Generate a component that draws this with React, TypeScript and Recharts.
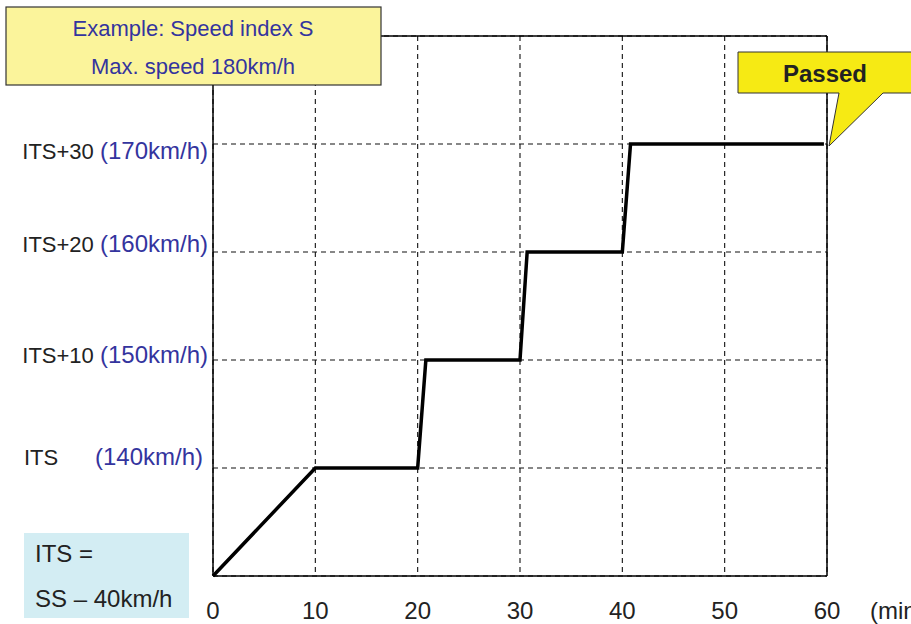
import React from "react"
import { LineChart, Line, XAxis, YAxis, CartesianGrid, ReferenceLine } from "recharts"

// test run: minutes vs. speed (km/h)
const minutes = [0, 10, 20, 20.8, 30, 30.7, 40, 40.8, 59.7]
const speeds = [130, 140, 140, 150, 150, 160, 160, 170, 170]

const xTicks = [0, 10, 20, 30, 40, 50, 60]
const yTicks = [140, 150, 160, 170]
const yStepNames = ["ITS", "ITS+10", "ITS+20", "ITS+30"]
const ySpeedLabels = ["(140km/h)", "(150km/h)", "(160km/h)", "(170km/h)"]

const data = minutes.map((m, i) => ({ min: m, speed: speeds[i] }))

const FONT = "'Liberation Sans', Arial, sans-serif"
const BLUE = "#34349e"
const DARK = "#222"

// small vertical nudges so the labels sit where the original has them
const labelNudge: Record<number, number> = { 140: -11, 150: -5, 160: -8, 170: 7 }

function YTick(props: any) {
  const { y, payload } = props
  const i = yTicks.indexOf(payload.value)
  const cy = y + (labelNudge[payload.value] ?? 0)
  if (yStepNames[i] === "ITS") {
    return (
      <g fontFamily={FONT}>
        <text x={24} y={cy} dy={8} fontSize={22} fill={DARK}>ITS</text>
        <text x={203} y={cy} dy={8} fontSize={24} fill={BLUE} textAnchor="end">{ySpeedLabels[i]}</text>
      </g>
    )
  }
  return (
    <text x={208} y={cy} dy={8} textAnchor="end" fontFamily={FONT}>
      <tspan fontSize={22} fill={DARK}>{yStepNames[i]} </tspan>
      <tspan fontSize={24} fill={BLUE}>{ySpeedLabels[i]}</tspan>
    </text>
  )
}

function XTick(props: any) {
  const { x, payload } = props
  return (
    <text x={x} y={619} textAnchor="middle" fontSize={24} fill={DARK} fontFamily={FONT}>
      {payload.value}
    </text>
  )
}

export default function App() {
  return (
    <div style={{ position: "absolute", left: 0, top: 0, width: 911, height: 624, background: "#fff", overflow: "hidden" }}>
      <LineChart width={911} height={624} data={data} margin={{ top: 36, right: 84, bottom: 0, left: 0 }}>
        <CartesianGrid stroke="#111" strokeDasharray="5 4" strokeWidth={1.1} />
        <XAxis
          dataKey="min"
          type="number"
          domain={[0, 60]}
          ticks={xTicks}
          height={48}
          tickLine={false}
          axisLine={{ stroke: "#000", strokeWidth: 1.5 }}
          tick={<XTick />}
        />
        <YAxis
          type="number"
          domain={[130, 180]}
          ticks={yTicks}
          width={213}
          tickLine={false}
          axisLine={{ stroke: "#000", strokeWidth: 1.5 }}
          tick={<YTick />}
        />
        <ReferenceLine y={180} stroke="#000" strokeWidth={1.5} />
        <ReferenceLine x={60} stroke="#000" strokeWidth={1.5} />
        <Line
          type="linear"
          dataKey="speed"
          stroke="#000"
          strokeWidth={3.5}
          dot={false}
          isAnimationActive={false}
        />
      </LineChart>
      <svg width={911} height={624} style={{ position: "absolute", left: 0, top: 0, pointerEvents: "none" }} fontFamily={FONT}>
        <rect x={6} y={7} width={375} height={78} fill="#fbf49b" stroke="#333" strokeWidth={1.2} />
        <text x={193} y={36} textAnchor="middle" fontSize={22} fill={BLUE}>Example: Speed index S</text>
        <text x={193} y={74} textAnchor="middle" fontSize={22} fill={BLUE}>Max. speed 180km/h</text>

        <path d="M738,52 H913 V93 H883 L829,146 L839,93 H738 Z" fill="#f6ea14" stroke="#333" strokeWidth={1} />
        <text x={825} y={82} textAnchor="middle" fontSize={24} fontWeight="bold" fill={DARK}>Passed</text>

        <rect x={24} y={533} width={165} height={85} fill="#d3edf3" />
        <text x={35} y={562} fontSize={24} fill={DARK}>ITS =</text>
        <text x={35} y={607} fontSize={24} fill={DARK}>SS – 40km/h</text>

        <text x={870} y={619} fontSize={24} fill={DARK}>(min)</text>
      </svg>
    </div>
  )
}
